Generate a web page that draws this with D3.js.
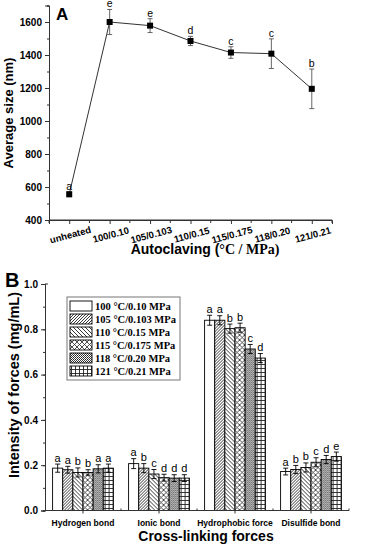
<!DOCTYPE html>
<html>
<head>
<meta charset="utf-8">
<script src="https://cdn.jsdelivr.net/npm/d3@7/dist/d3.min.js"></script>
<style>
  body { margin: 0; background: #fff; }
  svg { display: block; }
  text { font-family: "Liberation Sans", Arial, sans-serif; fill: #000; }
</style>
</head>
<body>
<div id="chart"></div>
<script>
// panel A: average size after autoclaving
var treatments = ["unheated","100/0.10","105/0.103","110/0.15","115/0.175","118/0.20","121/0.21"]
var avgSize = [556, 1600, 1578, 1485, 1415, 1408, 1195]
var sizeErr = [15, 76, 42, 28, 35, 90, 120]
var sizeLetters = ["a","e","e","d","c","c","b"]
var sizeTicks = [400, 600, 800, 1000, 1200, 1400, 1600]

// panel B: cross-linking forces
var forces = ["Hydrogen bond","Ionic bond","Hydrophobic force","Disulfide bond"]
var conditions = ["100 °C/0.10 MPa","105 °C/0.103 MPa","110 °C/0.15 MPa",
                  "115 °C/0.175 MPa","118 °C/0.20 MPa","121 °C/0.21 MPa"]
var hydrogen = [0.187, 0.180, 0.168, 0.168, 0.184, 0.187]
var ionic = [0.207, 0.187, 0.161, 0.145, 0.143, 0.143]
var hydrophobic = [0.840, 0.840, 0.803, 0.807, 0.713, 0.673]
var disulfide = [0.172, 0.181, 0.190, 0.213, 0.225, 0.238]
var hydrogenErr = [0.018, 0.015, 0.020, 0.012, 0.018, 0.018]
var ionicErr = [0.022, 0.020, 0.020, 0.015, 0.015, 0.015]
var hydrophobicErr = [0.022, 0.020, 0.020, 0.020, 0.020, 0.020]
var disulfideErr = [0.015, 0.018, 0.020, 0.020, 0.018, 0.020]
var hydrogenLetters = ["a","a","b","b","a","a"]
var ionicLetters = ["a","b","c","d","d","d"]
var hydrophobicLetters = ["a","a","b","b","c","d"]
var disulfideLetters = ["a","b","b","c","d","e"]
var intensityTicks = [0, 0.2, 0.4, 0.6, 0.8, 1.0]

var svg = d3.select("#chart").append("svg")
    .attr("width", 365)
    .attr("height", 550)

// fill patterns for the bars
var defs = svg.append("defs")
function pat(id, w, h, draw) {
    var p = defs.append("pattern")
        .attr("id", id)
        .attr("patternUnits", "userSpaceOnUse")
        .attr("width", w).attr("height", h)
    p.append("rect").attr("width", w).attr("height", h).attr("fill", "#fff")
    draw(p)
}
pat("p1", 4, 4, function(p) {})
pat("p2", 3, 3, function(p) {
    p.append("path").attr("d", "M-1,1 L1,-1 M0,3 L3,0 M2,4 L4,2")
        .attr("stroke", "#222").attr("stroke-width", 0.9)
})
pat("p3", 4, 4, function(p) {
    p.append("path").attr("d", "M-1,3 L1,5 M0,0 L4,4 M3,-1 L5,1")
        .attr("stroke", "#222").attr("stroke-width", 0.9)
})
pat("p4", 5, 5, function(p) {
    p.append("path").attr("d", "M0,0 L5,5 M5,0 L0,5")
        .attr("stroke", "#222").attr("stroke-width", 0.8)
})
pat("p5", 2, 2, function(p) {
    p.append("rect").attr("width", 1).attr("height", 1).attr("fill", "#222")
    p.append("rect").attr("x", 1).attr("y", 1).attr("width", 1).attr("height", 1).attr("fill", "#444")
})
pat("p6", 4, 4, function(p) {
    p.append("path").attr("d", "M0,0.5 H4 M0.5,0 V4")
        .attr("stroke", "#222").attr("stroke-width", 0.9)
})
var patterns = ["p1","p2","p3","p4","p5","p6"]

// ---------------- panel A ----------------
var xA = d3.scalePoint()
    .domain(treatments)
    .range([49, 332])
    .padding(0.5)
var yA = d3.scaleLinear()
    .domain([400, 1700])
    .range([220, 5.5])

var gA = svg.append("g")

// y axis with minor ticks
gA.append("g")
    .attr("transform", "translate(49,0)")
    .call(d3.axisLeft(yA).tickValues(d3.range(400, 1701, 100)).tickSize(2).tickFormat(""))
gA.append("g")
    .attr("class", "yA")
    .attr("transform", "translate(49,0)")
    .call(d3.axisLeft(yA).tickValues(sizeTicks).tickSize(4).tickPadding(3).tickFormat(d3.format("d")))

// x axis: ticks at categories and in between
var xMid = treatments.map(function(d) { return xA(d) + xA.step() / 2 })
gA.append("g")
    .attr("transform", "translate(0,220)")
    .selectAll("line").data(xMid.concat([49]))
    .enter().append("line")
    .attr("x1", function(d) { return d }).attr("x2", function(d) { return d })
    .attr("y1", 0).attr("y2", 3)
    .attr("stroke", "#333")
gA.append("g")
    .attr("class", "xA")
    .attr("transform", "translate(0,220)")
    .call(d3.axisBottom(xA).tickSize(4).tickFormat(""))
gA.append("line")
    .attr("x1", 49).attr("x2", 332).attr("y1", 220).attr("y2", 220)
    .attr("stroke", "#333")

gA.append("g").selectAll("text").data(treatments)
    .enter().append("text")
    .attr("transform", function(d) { return "translate(" + (xA(d) + 2) + ",238) rotate(-15)" })
    .attr("text-anchor", "middle")
    .style("font-size", "9.5px")
    .style("font-weight", "bold")
    .text(function(d) { return d })

// line + error bars + markers
var lineA = d3.line()
    .x(function(d, i) { return xA(treatments[i]) })
    .y(function(d) { return yA(d) })
gA.append("path")
    .datum(avgSize)
    .attr("d", lineA)
    .attr("fill", "none")
    .attr("stroke", "#333")
    .attr("stroke-width", 1)

var errA = gA.append("g").selectAll("g").data(avgSize)
    .enter().append("g")
    .attr("stroke", "#555")
    .attr("stroke-width", 0.9)
errA.append("line")
    .attr("x1", function(d, i) { return xA(treatments[i]) })
    .attr("x2", function(d, i) { return xA(treatments[i]) })
    .attr("y1", function(d, i) { return yA(d + sizeErr[i]) })
    .attr("y2", function(d, i) { return yA(d - sizeErr[i]) })
errA.append("line")
    .attr("x1", function(d, i) { return xA(treatments[i]) - 2.5 })
    .attr("x2", function(d, i) { return xA(treatments[i]) + 2.5 })
    .attr("y1", function(d, i) { return yA(d + sizeErr[i]) })
    .attr("y2", function(d, i) { return yA(d + sizeErr[i]) })
errA.append("line")
    .attr("x1", function(d, i) { return xA(treatments[i]) - 2.5 })
    .attr("x2", function(d, i) { return xA(treatments[i]) + 2.5 })
    .attr("y1", function(d, i) { return yA(d - sizeErr[i]) })
    .attr("y2", function(d, i) { return yA(d - sizeErr[i]) })

gA.append("g").selectAll("rect").data(avgSize)
    .enter().append("rect")
    .attr("x", function(d, i) { return xA(treatments[i]) - 3 })
    .attr("y", function(d) { return yA(d) - 3 })
    .attr("width", 6).attr("height", 6)
    .attr("fill", "#000")

gA.append("g").selectAll("text").data(avgSize)
    .enter().append("text")
    .attr("x", function(d, i) { return xA(treatments[i]) })
    .attr("y", function(d, i) { return yA(d + sizeErr[i]) - 2 })
    .attr("text-anchor", "middle")
    .style("font-size", "10.5px")
    .style("fill", "#000")
    .text(function(d, i) { return sizeLetters[i] })

// titles
gA.append("text")
    .attr("x", 56).attr("y", 20)
    .style("font-size", "17px").style("font-weight", "bold")
    .text("A")
gA.append("text")
    .attr("transform", "translate(13,113) rotate(-90)")
    .attr("text-anchor", "middle")
    .style("font-size", "13px").style("font-weight", "bold")
    .text("Average size (nm)")
var xtA = gA.append("text")
    .attr("x", 205).attr("y", 254)
    .attr("text-anchor", "middle")
    .style("font-size", "14px").style("font-weight", "bold")
xtA.append("tspan").text("Autoclaving (")
xtA.append("tspan").style("font-family", "'Liberation Serif', 'Times New Roman', serif").text("°C / MPa)")

// ---------------- panel B ----------------
var groupValues = [hydrogen, ionic, hydrophobic, disulfide]
var groupErr = [hydrogenErr, ionicErr, hydrophobicErr, disulfideErr]
var groupLetters = [hydrogenLetters, ionicLetters, hydrophobicLetters, disulfideLetters]

var xB = d3.scaleBand()
    .domain(forces)
    .range([45, 349])
    .paddingInner(0.2)
    .paddingOuter(0.1)
var xSub = d3.scaleBand()
    .domain(conditions)
    .range([0, xB.bandwidth()])
var yB = d3.scaleLinear()
    .domain([0, 1.0])
    .range([510.5, 284])

var gB = svg.append("g")

gB.append("g")
    .attr("transform", "translate(45,0)")
    .call(d3.axisLeft(yB).tickValues(d3.range(0, 1.01, 0.1)).tickSize(2).tickFormat(""))
gB.append("g")
    .attr("class", "yB")
    .attr("transform", "translate(45,0)")
    .call(d3.axisLeft(yB).tickValues(intensityTicks).tickSize(4).tickPadding(3).tickFormat(d3.format(".1f")))
gB.append("line")
    .attr("x1", 45).attr("x2", 48).attr("y1", yB(1)).attr("y2", yB(1))
    .attr("stroke", "#333")

var bars = gB.append("g").selectAll("g").data(forces)
    .enter().append("g")
    .attr("transform", function(d) { return "translate(" + xB(d) + ",0)" })
bars.selectAll("rect")
    .data(function(d, i) { return groupValues[i].map(function(v, j) { return { v: v, j: j } }) })
    .enter().append("rect")
    .attr("x", function(d) { return xSub(conditions[d.j]) })
    .attr("y", function(d) { return yB(d.v) })
    .attr("width", xSub.bandwidth())
    .attr("height", function(d) { return yB(0) - yB(d.v) })
    .attr("fill", function(d) { return "url(#" + patterns[d.j] + ")" })
    .attr("stroke", "#000")
    .attr("stroke-width", 0.9)

bars.each(function(f, i) {
    var g = d3.select(this)
    groupValues[i].forEach(function(v, j) {
        var cx = xSub(conditions[j]) + xSub.bandwidth() / 2
        var top = yB(v + groupErr[i][j]), bot = yB(v - groupErr[i][j])
        g.append("path")
            .attr("d", "M" + (cx - 2.5) + "," + top + "H" + (cx + 2.5) +
                "M" + cx + "," + top + "V" + bot +
                "M" + (cx - 2.5) + "," + bot + "H" + (cx + 2.5))
            .attr("stroke", "#000").attr("stroke-width", 0.9).attr("fill", "none")
        g.append("text")
            .attr("x", cx).attr("y", top - 2.5)
            .attr("text-anchor", "middle")
            .style("font-size", "11px")
            .style("fill", "#000")
            .text(groupLetters[i][j])
    })
})

// x axis
gB.append("line")
    .attr("x1", 45).attr("x2", 349).attr("y1", yB(0)).attr("y2", yB(0))
    .attr("stroke", "#333")
gB.append("g").selectAll("line").data(forces)
    .enter().append("line")
    .attr("x1", function(d) { return xB(d) + xB.bandwidth() / 2 })
    .attr("x2", function(d) { return xB(d) + xB.bandwidth() / 2 })
    .attr("y1", yB(0) - 3).attr("y2", yB(0) + 3)
    .attr("stroke", "#333")
gB.append("g").selectAll("line").data([121, 197, 273, 349])
    .enter().append("line")
    .attr("x1", function(d) { return d }).attr("x2", function(d) { return d })
    .attr("y1", yB(0) - 2).attr("y2", yB(0))
    .attr("stroke", "#333")
gB.append("g").selectAll("text").data(forces)
    .enter().append("text")
    .attr("x", function(d) { return xB(d) + xB.bandwidth() / 2 })
    .attr("y", 526)
    .attr("text-anchor", "middle")
    .style("font-size", "8.5px").style("font-weight", "bold")
    .text(function(d) { return d })

// legend
var leg = gB.append("g").attr("transform", "translate(67,297)")
leg.append("rect")
    .attr("width", 113).attr("height", 83)
    .attr("fill", "#fff").attr("stroke", "#777").attr("stroke-width", 1)
conditions.forEach(function(c, j) {
    leg.append("rect")
        .attr("x", 3).attr("y", 4 + j * 13)
        .attr("width", 22).attr("height", 10)
        .attr("fill", "url(#" + patterns[j] + ")")
        .attr("stroke", "#000").attr("stroke-width", 0.9)
    leg.append("text")
        .attr("x", 28).attr("y", 13 + j * 13)
        .style("font-family", "'Liberation Serif', 'Times New Roman', serif")
        .style("font-size", "10.5px").style("font-weight", "bold")
        .text(c)
})

// titles
gB.append("text")
    .attr("x", 5).attr("y", 287)
    .style("font-size", "20px").style("font-weight", "bold")
    .text("B")
gB.append("text")
    .attr("transform", "translate(19,385) rotate(-90)")
    .attr("text-anchor", "middle")
    .style("font-size", "14.5px").style("font-weight", "bold")
    .text("Intensity of forces (mg/mL)")
gB.append("text")
    .attr("x", 206).attr("y", 541)
    .attr("text-anchor", "middle")
    .style("font-size", "14px").style("font-weight", "bold")
    .text("Cross-linking forces")

// axis styling
svg.selectAll(".domain").attr("stroke", "#333")
svg.selectAll(".tick line").attr("stroke", "#333")
svg.selectAll(".yA text, .yB text")
    .style("font-size", "10px")
    .style("font-weight", "bold")
    .style("font-family", "'Liberation Sans', Arial, sans-serif")
    .attr("fill", "#000")
</script>
</body>
</html>
